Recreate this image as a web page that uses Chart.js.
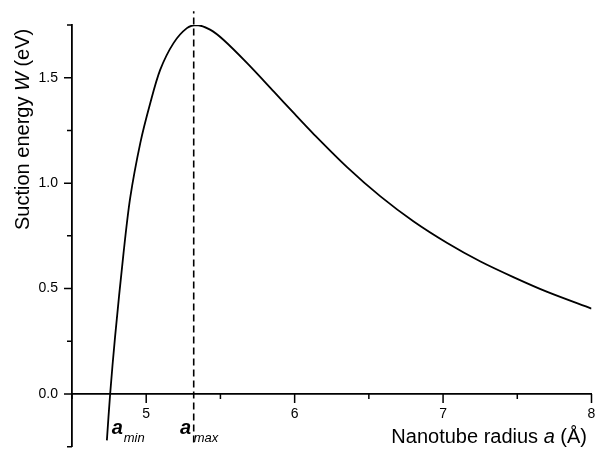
<!DOCTYPE html>
<html>
<head>
<meta charset="utf-8">
<script src="https://cdn.jsdelivr.net/npm/chart.js@4"></script>
<style>
  body { margin: 0; background: #fff; }
  canvas { display: block; }
</style>
</head>
<body>
<canvas id="grafico" width="597" height="450"></canvas>
<script>
// Datos
const radio = [4.735, 4.757, 4.79, 4.847, 4.892, 4.96, 5.027, 5.094, 5.184, 5.274, 5.34, 5.43,
               5.52, 5.68, 5.86, 6.0, 6.128, 6.353, 6.578, 6.802, 7.028, 7.252, 7.477, 7.702, 8.0];
const energia = [-0.22, 0.0, 0.27, 0.667, 0.93, 1.19, 1.379, 1.537, 1.664, 1.735, 1.75, 1.728,
                 1.68, 1.569, 1.434, 1.328, 1.233, 1.076, 0.937, 0.818, 0.716, 0.628, 0.553, 0.484, 0.405];

// radios marcados (a_min, a_max)
const marcasX = [4.757, 5.32];
const marcasTxt = ['min', 'max'];
// extension vertical de la linea punteada en a_max
const punteadaY = [-0.23, 1.815];

// ejes
const ejeX = { min: 4.5, max: 8, paso: 0.5 };
const ejeY = { min: -0.25, max: 1.75, paso: 0.25 };

const fuente = "'Liberation Sans', Arial, sans-serif";

const curva = radio.map((r, i) => ({ x: r, y: energia[i] }));
const punteada = punteadaY.map(v => ({ x: marcasX[1], y: v }));

function textoPartes(ctx, partes, x, y, alinear) {
  // partes: [texto, fuente]
  let ancho = 0;
  partes.forEach(p => { ctx.font = p[1]; ancho += ctx.measureText(p[0]).width; });
  let cx = alinear === 'right' ? x - ancho : x;
  ctx.textAlign = 'left';
  partes.forEach(p => {
    ctx.font = p[1];
    ctx.fillText(p[0], cx, y);
    cx += ctx.measureText(p[0]).width;
  });
}

const ejesPlugin = {
  id: 'ejes',
  afterDraw(chart) {
    const { ctx, chartArea, scales: { x, y } } = chart;
    const y0 = y.getPixelForValue(0);
    ctx.save();
    ctx.strokeStyle = '#000';
    ctx.lineWidth = 1.5;
    ctx.beginPath();
    x.ticks.forEach(t => {
      const px = x.getPixelForValue(t.value);
      const largo = t.label !== '' ? 9 : 5;
      ctx.moveTo(px, y0);
      ctx.lineTo(px, y0 + largo);
    });
    y.ticks.forEach(t => {
      const py = y.getPixelForValue(t.value);
      const largo = t.label !== '' ? 8 : 5;
      ctx.moveTo(chartArea.left, py);
      ctx.lineTo(chartArea.left - largo, py);
    });
    ctx.stroke();

    ctx.fillStyle = '#000';
    ctx.textBaseline = 'alphabetic';

    // titulo eje x
    textoPartes(ctx, [
      ['Nanotube radius ', '20px ' + fuente],
      ['a', 'italic 20px ' + fuente],
      [' (\u00C5)', '20px ' + fuente]
    ], 587, 442.5, 'right');

    // titulo eje y
    ctx.save();
    ctx.translate(28.5, 230);
    ctx.rotate(-Math.PI / 2);
    textoPartes(ctx, [
      ['Suction energy ', '20px ' + fuente],
      ['W', 'italic 20px ' + fuente],
      [' (eV)', '20px ' + fuente]
    ], 0, 0, 'left');
    ctx.restore();

    // etiquetas a_min y a_max
    marcasX.forEach((v, i) => {
      const px = x.getPixelForValue(v);
      ctx.font = 'italic bold 20px ' + fuente;
      const anchoA = ctx.measureText('a').width;
      const inicio = i === 0 ? px + 1.5 : px - 2.5 - anchoA;
      ctx.textAlign = 'left';
      ctx.fillText('a', inicio, 434);
      ctx.font = 'italic 13px ' + fuente;
      ctx.fillText(marcasTxt[i], inicio + anchoA + (i === 0 ? 1 : 2.5), 441.5);
    });
    ctx.restore();
  }
};

Chart.defaults.font.family = fuente;
Chart.defaults.color = '#000';

new Chart(document.getElementById('grafico'), {
  type: 'scatter',
  data: {
    datasets: [
      {
        data: curva,
        showLine: true,
        borderColor: '#000',
        borderWidth: 1.8,
        pointRadius: 0,
        tension: 0.3
      },
      {
        data: punteada,
        showLine: true,
        borderColor: '#000',
        borderWidth: 1.6,
        borderDash: [7, 4],
        pointRadius: 0,
        clip: false
      }
    ]
  },
  options: {
    responsive: false,
    animation: false,
    layout: { padding: { left: 0, top: 25, right: 5.5, bottom: 3.3 } },
    plugins: {
      legend: { display: false },
      tooltip: { enabled: false }
    },
    scales: {
      x: {
        type: 'linear',
        min: ejeX.min,
        max: ejeX.max,
        position: { y: 0 },
        grid: { drawOnChartArea: false, drawTicks: false },
        border: { color: '#000', width: 1.8 },
        afterFit: s => { s.paddingLeft = 0; s.paddingRight = 0; },
        ticks: {
          stepSize: ejeX.paso,
          padding: 12,
          font: { size: 14 },
          color: '#000',
          maxRotation: 0,
          autoSkip: false,
          callback: v => Number.isInteger(v) && v > ejeX.min ? String(v) : ''
        }
      },
      y: {
        type: 'linear',
        min: ejeY.min,
        max: ejeY.max,
        grid: { drawOnChartArea: false, drawTicks: false },
        border: { color: '#000', width: 1.8 },
        afterFit: s => { s.width = 72; s.paddingTop = 0; s.paddingBottom = 0; },
        ticks: {
          stepSize: ejeY.paso,
          padding: 14,
          font: { size: 14 },
          color: '#000',
          autoSkip: false,
          callback: v => Math.abs(v * 2 - Math.round(v * 2)) < 1e-6 && v >= 0 ? v.toFixed(1) : ''
        }
      }
    }
  },
  plugins: [ejesPlugin]
});
</script>
</body>
</html>
